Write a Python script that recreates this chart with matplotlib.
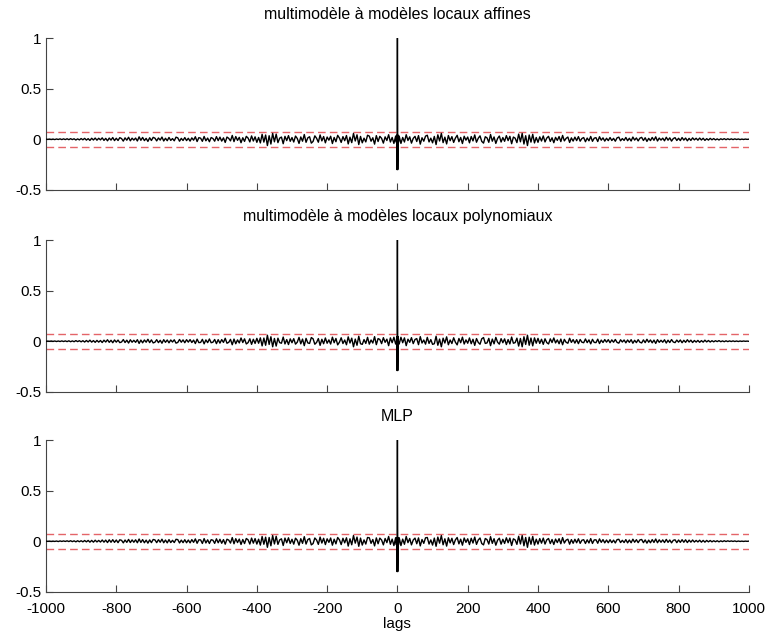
import matplotlib.pyplot as plt
import numpy as np

plt.rcParams['font.family'] = ['Liberation Sans', 'DejaVu Sans']
plt.rcParams['axes.unicode_minus'] = False

# ---------------------------------------------------------
# data: autocorrelation of residuals, positive lags only
# (an autocorrelation is symmetric, negative lags are mirrored)
# values are in thousandths
# ---------------------------------------------------------
titles = ['multimodèle à modèles locaux affines',
          'multimodèle à modèles locaux polynomiaux',
          'MLP']

lags_near = [0, 1, 2, 3]
lags_far = list(range(5, 1001, 5))

near_affine = [1000, -300, 40, -30]
near_poly = [1000, -290, 45, -25]
near_mlp = [1000, -300, 35, -35]

acf_affine = [
    32, -41, 18, -27, 45, -12, 24, -38, 9, 29,
    -22, 36, -48, 15, -19, 31, 40, -26, 11, -35,
    28, -52, 44, -17, 58, -33, 21, -46, 37, -14,
    26, -31, 12, 39, -24, 18, -42, 30, -9, 22,
    -35, 27, -16, 43, -29, 10, 34, -21, -38, 25,
    14, -30, 47, -19, 23, -41, 8, 32, -27, 17,
    -20, 36, -13, 29, -44, 22, 11, -33, 51, -25,
    58, -47, 35, -62, 42, -28, 49, -36, 18, -30,
    24, -17, 33, -26, 12, 29, -21, 15, -34, 19,
    -11, 27, -23, 38, -16, 9, 22, -31, 14, -18,
    21, -13, 26, -19, 8, 17, -24, 12, -15, 28,
    -20, 11, 16, -22, 25, -9, 14, -18, 10, -13,
    17, -12, 9, -19, 14, 21, -15, 7, -11, 18,
    -14, 10, -17, 22, -8, 13, -16, 11, 19, -12,
    15, -21, 9, -13, 18, -10, 24, -17, 12, -8,
    11, -15, 20, -9, 14, -18, 7, 16, -12, 10,
    -13, 17, -8, 12, -15, 9, -11, 14, -6, 10,
    -9, 12, -7, 10, -11, 6, -8, 9, -5, 7,
    -6, 4, -7, 5, -3, 6, -4, 5, -3, 4,
    -3, 4, -2, 3, -3, 2, -2, 2, -1, 1]

acf_poly = [
    -28, 39, -15, 33, -44, 20, -11, 35, -24, 17,
    26, -34, 45, -18, 12, -29, 38, -22, 16, -31,
    -25, 49, -40, 21, -55, 30, -18, 43, -35, 12,
    -23, 34, -10, -36, 27, -15, 40, -28, 13, -20,
    32, -25, 19, -41, 26, -12, -30, 24, 36, -22,
    -17, 28, -44, 21, -26, 38, -10, -29, 25, -15,
    23, -33, 16, -27, 41, -20, -14, 30, -48, 27,
    -55, 44, -32, 59, -40, 31, -46, 33, -20, 28,
    -22, 19, -31, 24, -14, -27, 23, -13, 32, -17,
    13, -25, 21, -35, 18, -11, -20, 29, -12, 16,
    -19, 15, -24, 17, -10, -15, 22, -14, 13, -26,
    18, -12, -14, 20, -23, 11, -13, 16, -9, 15,
    -15, 13, -10, 17, -12, -19, 14, -8, 12, -16,
    12, -11, 15, -20, 9, -14, 15, -10, -17, 13,
    -14, 19, -10, 12, -16, 11, -22, 15, -11, 9,
    -10, 14, -18, 10, -13, 16, -8, -14, 11, -9,
    12, -15, 9, -11, 14, -8, 10, -13, 7, -9,
    8, -11, 6, -9, 10, -7, 7, -8, 5, -6,
    5, -4, 6, -5, 3, -5, 4, -4, 3, -3,
    3, -3, 2, -3, 2, -2, 2, -1, 1, -1]

acf_mlp = [
    35, -43, 21, -30, 47, -14, 27, -36, 12, 31,
    -25, 33, -46, 17, -21, 34, 37, -28, 13, -38,
    31, -50, 41, -19, 56, -35, 24, -48, 34, -16,
    29, -33, 14, 37, -26, 20, -39, 32, -11, 24,
    -33, 29, -18, 41, -31, 12, 32, -23, -36, 27,
    16, -28, 45, -21, 25, -39, 10, 30, -29, 19,
    -22, 34, -15, 31, -42, 24, 13, -31, 49, -27,
    56, -45, 37, -60, 40, -30, 47, -38, 20, -28,
    26, -19, 31, -28, 14, 27, -23, 17, -32, 21,
    -13, 25, -25, 36, -18, 11, 20, -29, 16, -20,
    19, -15, 24, -21, 10, 15, -22, 14, -17, 26,
    -22, 13, 14, -20, 23, -11, 16, -16, 12, -15,
    15, -14, 11, -17, 16, 19, -13, 9, -13, 16,
    -16, 12, -15, 20, -10, 15, -14, 13, 17, -14,
    13, -19, 11, -15, 16, -12, 22, -15, 14, -10,
    13, -13, 18, -11, 12, -16, 9, 14, -14, 12,
    -11, 15, -10, 14, -13, 11, -9, 12, -8, 8,
    -7, 10, -9, 8, -9, 8, -6, 7, -6, 5,
    -5, 5, -6, 4, -4, 5, -3, 4, -2, 3,
    -2, 3, -3, 2, -2, 1, -2, 1, -1, 1]

conf_bound = 0.075   # +/- 1.96/sqrt(N)

series = [(near_affine, acf_affine),
          (near_poly, acf_poly),
          (near_mlp, acf_mlp)]

# ---------------------------------------------------------
# figure
# ---------------------------------------------------------
fig = plt.figure(figsize=(7.69, 6.35), dpi=100)
tops = [0.940, 0.622, 0.307]
h = 0.239

lags_pos = np.array(lags_near + lags_far)
lags = np.concatenate([-lags_pos[:0:-1], lags_pos])

for k, (title, (near, far)) in enumerate(zip(titles, series)):
    ax = fig.add_axes([0.0598, tops[k] - h, 0.914, h])
    vals_pos = np.array(near + far) / 1000.0
    vals = np.concatenate([vals_pos[:0:-1], vals_pos])

    ax.plot(lags, vals, color='black', linewidth=1.0, zorder=3)
    for b in (conf_bound, -conf_bound):
        ax.axhline(b, color='#e46468', linewidth=1.0, dashes=(5.5, 3), zorder=2)

    ax.set_xlim(-1000, 1000)
    ax.set_ylim(-0.5, 1)
    ax.set_yticks([-0.5, 0, 0.5, 1])
    ax.set_yticklabels(['-0.5', '0', '0.5', '1'])
    ax.set_xticks(np.arange(-1000, 1001, 200))
    if k < 2:
        ax.set_xticklabels([])
    else:
        ax.set_xlabel('lags', fontsize=11, labelpad=1)
    ax.tick_params(direction='in', length=5, width=0.8, colors='#444444',
                   labelsize=11, labelcolor='black')
    ax.tick_params(axis='x', pad=7)
    ax.spines['top'].set_visible(False)
    ax.spines['right'].set_visible(False)
    for s in ('left', 'bottom'):
        ax.spines[s].set_color('#444444')
        ax.spines[s].set_linewidth(0.8)
    ax.set_title(title, fontsize=11.5, pad=14)

plt.savefig('out.png', dpi=100)
